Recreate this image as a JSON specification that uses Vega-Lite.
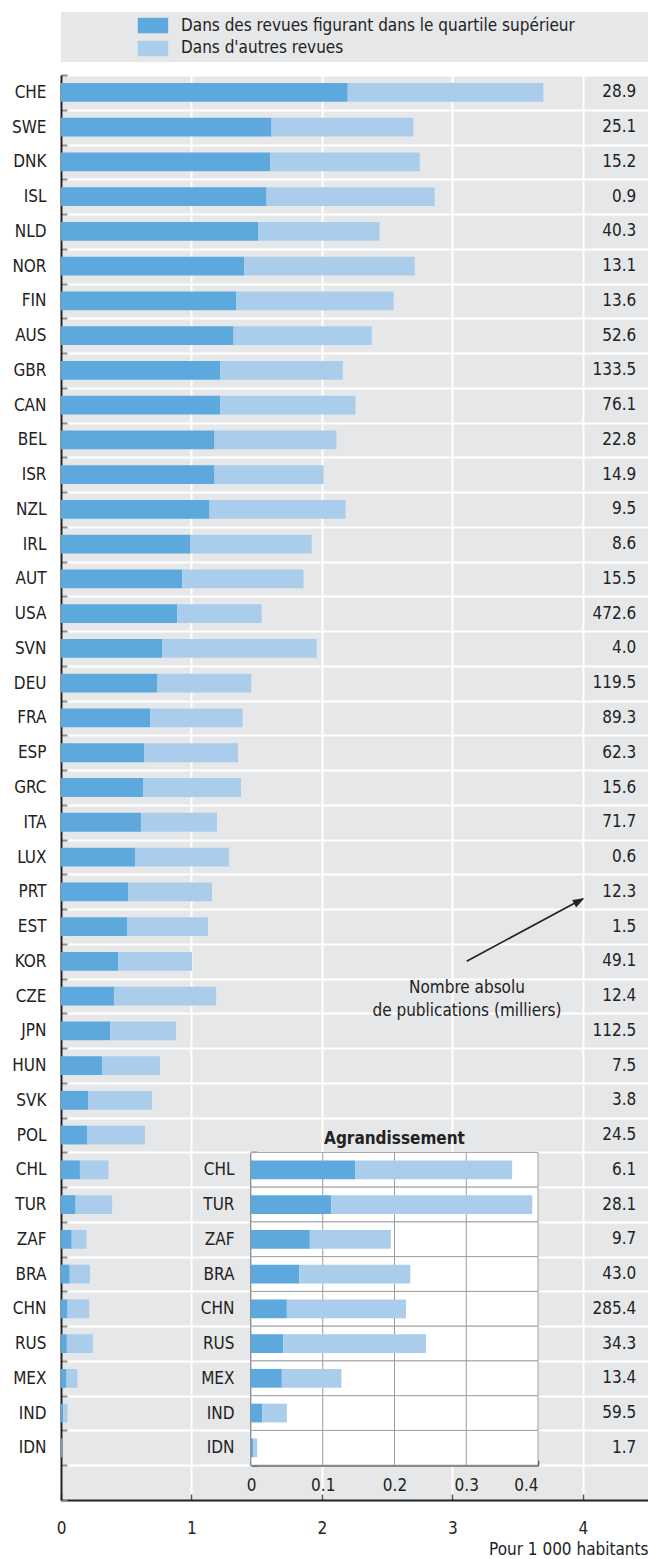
{
  "$schema": "https://vega.github.io/schema/vega-lite/v6.json",
  "padding": {"left": 0, "top": 12, "right": 0, "bottom": 0},
  "bounds": "flush",
  "spacing": 13,
  "config": {
    "font": "DejaVu Sans Condensed",
    "view": {"fill": "#e6e7e8", "stroke": null},
    "text": {"fontSize": 17, "color": "#222222"},
    "axis": {"labelFontSize": 17, "labelColor": "#222222", "titleColor": "#222222"}
  },
  "vconcat": [
    {
      "width": 587,
      "height": 50,
      "data": {"values": [
        {"series": "Dans des revues figurant dans le quartile supérieur"},
        {"series": "Dans d'autres revues"}
      ]},
      "encoding": {
        "y": {"field": "series", "type": "nominal", "scale": {"type": "point", "domain": ["Dans des revues figurant dans le quartile supérieur", "Dans d'autres revues"], "padding": 0.59}, "axis": null}
      },
      "layer": [
        {
          "mark": {"type": "point", "shape": "M-1.9,-0.97H1.9V0.97H-1.9Z", "size": 256, "filled": true, "opacity": 1, "strokeWidth": 0},
          "encoding": {
            "x": {"datum": 0.1567, "type": "quantitative", "scale": {"domain": [0, 1]}, "axis": null},
            "color": {"field": "series", "type": "nominal", "scale": {"domain": ["Dans des revues figurant dans le quartile supérieur", "Dans d'autres revues"], "range": ["#5da8dc", "#abcdec"]}, "legend": null}
          }
        },
        {
          "mark": {"type": "text", "align": "left", "baseline": "middle", "fontSize": 17},
          "encoding": {
            "x": {"datum": 0.2044, "type": "quantitative", "scale": {"domain": [0, 1]}, "axis": null},
            "text": {"field": "series"}
          }
        }
      ]
    },
    {
      "width": 587,
      "height": 1425,
      "data": {"values": [
        {"country": "CHE", "top": 2.198, "total": 3.698, "pubs": 28.9},
        {"country": "SWE", "top": 1.614, "total": 2.702, "pubs": 25.1},
        {"country": "DNK", "top": 1.605, "total": 2.750, "pubs": 15.2},
        {"country": "ISL", "top": 1.576, "total": 2.864, "pubs": 0.9},
        {"country": "NLD", "top": 1.513, "total": 2.442, "pubs": 40.3},
        {"country": "NOR", "top": 1.405, "total": 2.712, "pubs": 13.1},
        {"country": "FIN", "top": 1.345, "total": 2.550, "pubs": 13.6},
        {"country": "AUS", "top": 1.323, "total": 2.382, "pubs": 52.6},
        {"country": "GBR", "top": 1.221, "total": 2.160, "pubs": 133.5},
        {"country": "CAN", "top": 1.221, "total": 2.258, "pubs": 76.1},
        {"country": "BEL", "top": 1.177, "total": 2.112, "pubs": 22.8},
        {"country": "ISR", "top": 1.177, "total": 2.014, "pubs": 14.9},
        {"country": "NZL", "top": 1.139, "total": 2.182, "pubs": 9.5},
        {"country": "IRL", "top": 0.993, "total": 1.922, "pubs": 8.6},
        {"country": "AUT", "top": 0.929, "total": 1.859, "pubs": 15.5},
        {"country": "USA", "top": 0.891, "total": 1.538, "pubs": 472.6},
        {"country": "SVN", "top": 0.777, "total": 1.960, "pubs": 4.0},
        {"country": "DEU", "top": 0.739, "total": 1.459, "pubs": 119.5},
        {"country": "FRA", "top": 0.685, "total": 1.392, "pubs": 89.3},
        {"country": "ESP", "top": 0.637, "total": 1.357, "pubs": 62.3},
        {"country": "GRC", "top": 0.629, "total": 1.380, "pubs": 15.6},
        {"country": "ITA", "top": 0.613, "total": 1.196, "pubs": 71.7},
        {"country": "LUX", "top": 0.567, "total": 1.288, "pubs": 0.6},
        {"country": "PRT", "top": 0.514, "total": 1.158, "pubs": 12.3},
        {"country": "EST", "top": 0.506, "total": 1.127, "pubs": 1.5},
        {"country": "KOR", "top": 0.437, "total": 1.005, "pubs": 49.1},
        {"country": "CZE", "top": 0.406, "total": 1.189, "pubs": 12.4},
        {"country": "JPN", "top": 0.376, "total": 0.882, "pubs": 112.5},
        {"country": "HUN", "top": 0.314, "total": 0.759, "pubs": 7.5},
        {"country": "SVK", "top": 0.207, "total": 0.698, "pubs": 3.8},
        {"country": "POL", "top": 0.199, "total": 0.644, "pubs": 24.5},
        {"country": "CHL", "top": 0.145, "total": 0.364, "pubs": 6.1},
        {"country": "TUR", "top": 0.112, "total": 0.392, "pubs": 28.1},
        {"country": "ZAF", "top": 0.082, "total": 0.195, "pubs": 9.7},
        {"country": "BRA", "top": 0.067, "total": 0.222, "pubs": 43.0},
        {"country": "CHN", "top": 0.050, "total": 0.216, "pubs": 285.4},
        {"country": "RUS", "top": 0.045, "total": 0.244, "pubs": 34.3},
        {"country": "MEX", "top": 0.043, "total": 0.126, "pubs": 13.4},
        {"country": "IND", "top": 0.016, "total": 0.050, "pubs": 59.5},
        {"country": "IDN", "top": 0.003, "total": 0.0086, "pubs": 1.7}
      ]},
      "resolve": {"scale": {"x": "independent", "y": "independent"}, "axis": {"x": "independent", "y": "independent"}},
      "layer": [
        {
          "encoding": {
            "y": {
              "field": "country", "type": "nominal",
              "scale": {"domain": ["CHE","SWE","DNK","ISL","NLD","NOR","FIN","AUS","GBR","CAN","BEL","ISR","NZL","IRL","AUT","USA","SVN","DEU","FRA","ESP","GRC","ITA","LUX","PRT","EST","KOR","CZE","JPN","HUN","SVK","POL","CHL","TUR","ZAF","BRA","CHN","RUS","MEX","IND","IDN"," "], "paddingInner": 0, "paddingOuter": 0},
              "axis": {"orient": "left", "title": null, "tickBand": "extent", "grid": true, "gridColor": "#ffffff", "gridWidth": 2, "domainColor": "#222222", "domainWidth": 2, "tickSize": -6, "tickColor": "#8c8c8c", "tickWidth": 2, "labelPadding": 21, "minExtent": 61, "maxExtent": 61}
            },
            "x": {
              "field": "top", "type": "quantitative",
              "scale": {"domain": [0, 4.5], "nice": false},
              "axis": {"orient": "bottom", "values": [0, 1, 2, 3, 4], "format": "d", "grid": true, "gridColor": "#ffffff", "gridWidth": 2, "domainColor": "#222222", "domainWidth": 2, "tickSize": -6, "tickColor": "#555555", "tickWidth": 1.5, "labelPadding": 26, "labelFlush": false, "title": "Pour 1 000 habitants", "titleAnchor": "end", "titleFontWeight": "normal", "titleFontSize": 17, "titlePadding": 5}
            }
          },
          "layer": [
            {"mark": {"type": "bar", "color": "#5da8dc", "height": {"band": 0.54}}},
            {"mark": {"type": "bar", "color": "#abcdec", "height": {"band": 0.54}},
             "encoding": {"x": {"field": "top", "type": "quantitative"}, "x2": {"field": "total"}}},
            {"mark": {"type": "text", "align": "right", "baseline": "middle"},
             "encoding": {"x": {"datum": 4.41, "type": "quantitative"}, "text": {"field": "pubs", "type": "quantitative", "format": ".1f"}}},
            {"transform": [{"filter": "datum.country === 'CZE'"}],
             "mark": {"type": "text", "align": "center", "baseline": "middle", "lineHeight": 23, "dy": -8},
             "encoding": {"x": {"datum": 3.112, "type": "quantitative"}, "y": {"datum": "CZE", "type": "nominal"}, "text": {"value": ["Nombre absolu", "de publications (milliers)"]}}},
            {"transform": [{"filter": "datum.country === 'CZE'"}],
             "mark": {"type": "rule", "color": "#222222", "strokeWidth": 1.6},
             "encoding": {"x": {"datum": 4.0, "type": "quantitative"}, "y": {"datum": "PRT", "type": "nominal", "bandPosition": 0.7}, "x2": {"datum": 3.11}, "y2": {"datum": "KOR"}}},
            {"transform": [{"filter": "datum.country === 'CZE'"}],
             "mark": {"type": "point", "shape": "M0,0L-0.85,2.3L0.85,2.3Z", "size": 100, "angle": 62.5, "filled": true, "color": "#222222", "opacity": 1, "strokeWidth": 0},
             "encoding": {"x": {"datum": 4.012, "type": "quantitative"}, "y": {"datum": "PRT", "type": "nominal", "bandPosition": 0.69}}}
          ]
        },
        {
          "transform": [{"filter": {"field": "country", "oneOf": ["CHL","TUR","ZAF","BRA","CHN","RUS","MEX","IND","IDN"]}}],
          "encoding": {
            "y": {
              "field": "country", "type": "nominal",
              "scale": {"domain": ["CHL","TUR","ZAF","BRA","CHN","RUS","MEX","IND","IDN"], "range": [1077.4, 1390.2], "paddingInner": 0, "paddingOuter": 0},
              "axis": {"orient": "left", "offset": -190, "title": null, "tickBand": "extent", "grid": false, "domainColor": "#222222", "domainWidth": 2, "tickSize": -6, "tickColor": "#222222", "tickWidth": 1.5, "labelPadding": 23}
            },
            "x": {
              "field": "top", "type": "quantitative",
              "scale": {"domain": [0, 0.4], "range": [190, 477], "nice": false},
              "axis": {"orient": "bottom", "offset": -34.8, "title": null, "grid": false, "values": [0, 0.1, 0.2, 0.3, 0.4], "format": ".1~f", "domainColor": "#222222", "domainWidth": 1.5, "tickSize": -5, "tickColor": "#222222", "tickWidth": 1.5, "labelPadding": 17, "labelFlush": false, "labelAlign": {"expr": "datum.value > 0.35 ? 'right' : 'center'"}}
            }
          },
          "layer": [
            {"mark": {"type": "bar", "fill": "#ffffff", "stroke": "#a3a3a3", "strokeWidth": 1},
             "encoding": {"x": {"datum": 0, "type": "quantitative"}, "x2": {"datum": 0.4}}},
            {"mark": {"type": "tick", "orient": "vertical", "color": "#9c9c9c", "thickness": 1, "size": 35, "opacity": 1},
             "encoding": {"x": {"datum": 0.1, "type": "quantitative"}}},
            {"mark": {"type": "tick", "orient": "vertical", "color": "#9c9c9c", "thickness": 1, "size": 35, "opacity": 1},
             "encoding": {"x": {"datum": 0.2, "type": "quantitative"}}},
            {"mark": {"type": "tick", "orient": "vertical", "color": "#9c9c9c", "thickness": 1, "size": 35, "opacity": 1},
             "encoding": {"x": {"datum": 0.3, "type": "quantitative"}}},
            {"mark": {"type": "bar", "color": "#5da8dc", "height": {"band": 0.54}}},
            {"mark": {"type": "bar", "color": "#abcdec", "height": {"band": 0.54}},
             "encoding": {"x": {"field": "top", "type": "quantitative"}, "x2": {"field": "total"}}},
            {"transform": [{"filter": "datum.country === 'CHL'"}],
             "mark": {"type": "text", "fontWeight": "bold", "align": "center", "baseline": "middle", "dy": -31},
             "encoding": {"x": {"datum": 0.2, "type": "quantitative"}, "y": {"datum": "CHL", "type": "nominal"}, "text": {"value": "Agrandissement"}}}
          ]
        }
      ]
    }
  ]
}
